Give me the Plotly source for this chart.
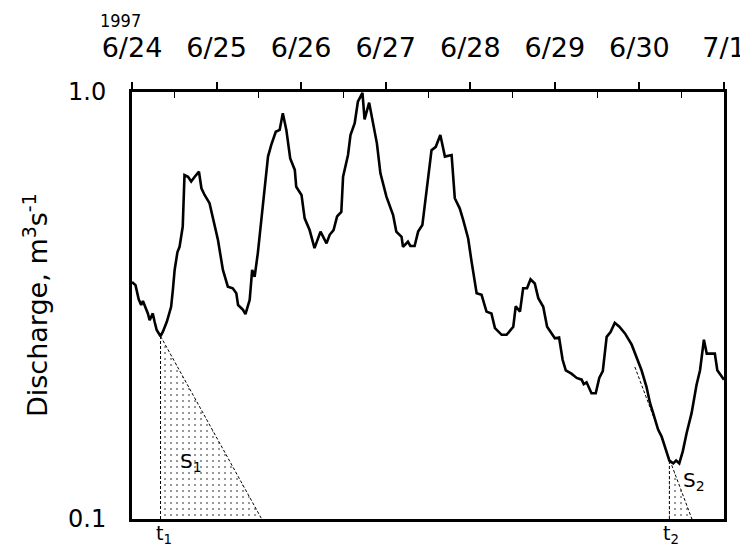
import pandas as pd
import plotly.graph_objects as go

# hours since 1997-06-24 00:00
hours = [0, 1.0, 1.9, 2.6, 3.1, 3.8, 4.5, 5.0, 5.9, 6.4,
         7.0, 8.1, 8.8, 9.9, 11.1, 11.6, 12.1, 12.9, 13.5, 14.4,
         14.9, 15.9, 16.8, 17.8, 19.0, 19.7, 20.6, 22.0, 23.4, 24.4,
         25.8, 27.2, 28.6, 29.6, 30.1, 31.5, 32.2, 33.4, 34.1, 34.8,
         35.7, 36.7, 37.6, 38.6, 39.5, 40.8, 41.9, 42.8, 43.8, 44.9,
         46.2, 46.6, 48.1, 49.0, 50.4, 51.8, 53.5, 55.2, 56.1, 57.2,
         58.2, 59.4, 59.9, 61.3, 62.0, 63.2, 64.1, 65.4, 66.0, 67.3,
         68.4, 69.5, 70.5, 72.2, 74.1, 75.0, 76.5, 76.9, 78.3, 79.0,
         80.2, 81.2, 82.4, 83.6, 85.0, 86.2, 87.5, 88.8, 90.7, 91.6,
         93.0, 94.0, 95.4, 96.3, 97.8, 99.2, 100.6, 102.0, 103.0, 104.9,
         106.3, 108.2, 108.9, 110.1, 111.0, 112.1, 113.1, 114.3, 115.3, 116.7,
         117.8, 120.0, 121.2, 122.2, 123.1, 124.7, 126.2, 127.6, 128.2, 129.0,
         130.4, 131.6, 132.6, 133.6, 134.7, 135.8, 137.0, 138.3, 139.9, 141.8,
         143.2, 144.6, 146.0, 147.0, 147.9, 149.3, 150.3, 151.5, 152.5, 153.6,
         154.4, 155.3, 156.3, 157.4, 158.8, 160.2, 161.2, 162.3, 163.1, 164.5,
         165.4, 166.1, 167.4, 168.0]

discharge = [0.359, 0.353, 0.327, 0.317, 0.324, 0.314, 0.303, 0.292, 0.303, 0.290,
             0.277, 0.268, 0.275, 0.290, 0.314, 0.344, 0.383, 0.422, 0.434, 0.484,
             0.639, 0.633, 0.617, 0.633, 0.651, 0.595, 0.574, 0.549, 0.493, 0.450,
             0.383, 0.350, 0.347, 0.338, 0.317, 0.309, 0.302, 0.326, 0.383, 0.369,
             0.419, 0.511, 0.590, 0.706, 0.751, 0.807, 0.815, 0.892, 0.815, 0.699,
             0.657, 0.600, 0.574, 0.506, 0.475, 0.431, 0.471, 0.442, 0.463, 0.475,
             0.511, 0.524, 0.633, 0.712, 0.793, 0.845, 0.949, 0.995, 0.863, 0.944,
             0.845, 0.758, 0.645, 0.569, 0.515, 0.471, 0.458, 0.434, 0.446, 0.436,
             0.436, 0.471, 0.488, 0.590, 0.731, 0.744, 0.793, 0.706, 0.712, 0.564,
             0.534, 0.501, 0.454, 0.404, 0.338, 0.335, 0.306, 0.303, 0.280, 0.270,
             0.270, 0.282, 0.315, 0.306, 0.347, 0.347, 0.364, 0.356, 0.329, 0.314,
             0.282, 0.265, 0.266, 0.236, 0.223, 0.219, 0.214, 0.212, 0.207, 0.209,
             0.197, 0.197, 0.214, 0.222, 0.267, 0.274, 0.288, 0.282, 0.272, 0.256,
             0.240, 0.223, 0.204, 0.187, 0.177, 0.162, 0.156, 0.145, 0.137, 0.135,
             0.137, 0.135, 0.144, 0.159, 0.177, 0.206, 0.223, 0.263, 0.244, 0.244,
             0.244, 0.223, 0.215, 0.212]

# recession lines (hours, discharge)
rec1_hours = [8.1, 36.8]
rec1_q = [0.268, 0.1]
rec2_hours = [142.7, 158.9]
rec2_q = [0.227, 0.1]
t1_hour, t1_q = 8.1, 0.268
t2_hour, t2_q = 152.5, 0.138

day_labels = ["6/24", "6/25", "6/26", "6/27", "6/28", "6/29", "6/30", "7/1"]

base = pd.Timestamp("1997-06-24")


def to_time(h):
    return [base + pd.Timedelta(hours=v) for v in h]


day_ticks = [base + pd.Timedelta(days=i) for i in range(len(day_labels))]

fig = go.Figure()

pattern = dict(shape=".", size=6, solidity=0.1, fgcolor="black", bgcolor="white")

# S1 shaded triangle
fig.add_trace(go.Scatter(
    x=to_time([t1_hour, t1_hour, rec1_hours[1], t1_hour]),
    y=[0.1, t1_q, rec1_q[1], 0.1],
    fill="toself", fillcolor="white", fillpattern=pattern,
    mode="lines", line=dict(width=0), hoverinfo="skip"))
# S2 shaded triangle
fig.add_trace(go.Scatter(
    x=to_time([t2_hour, t2_hour, rec2_hours[1], t2_hour]),
    y=[0.1, t2_q, rec2_q[1], 0.1],
    fill="toself", fillcolor="white", fillpattern=pattern,
    mode="lines", line=dict(width=0), hoverinfo="skip"))

dash_style = dict(color="black", width=1, dash="3px,2px")
fig.add_trace(go.Scatter(x=to_time(rec1_hours), y=rec1_q, mode="lines", line=dash_style))
fig.add_trace(go.Scatter(x=to_time(rec2_hours), y=rec2_q, mode="lines", line=dash_style))
fig.add_trace(go.Scatter(x=to_time([t1_hour, t1_hour]), y=[0.1, t1_q], mode="lines", line=dash_style))
fig.add_trace(go.Scatter(x=to_time([t2_hour, t2_hour]), y=[0.1, t2_q], mode="lines", line=dash_style))

# hydrograph
fig.add_trace(go.Scatter(x=to_time(hours), y=discharge, mode="lines",
                         line=dict(color="black", width=2.6)))

font_main = "DejaVu Sans"

# page body has an 8px margin, so the figure is 740x540 and offset by 8px
fig.update_layout(
    width=740, height=540, autosize=False,
    margin=dict(l=124, r=24, t=84, b=29),
    paper_bgcolor="white", plot_bgcolor="white",
    showlegend=False,
    xaxis=dict(
        type="date", side="top", automargin=False,
        range=[day_ticks[0], day_ticks[-1]],
        tickmode="array", tickvals=day_ticks, ticktext=day_labels,
        ticks="outside", ticklen=7, tickwidth=1.5, tickcolor="black",
        tickfont=dict(family=font_main, size=27, color="black"),
        ticklabelstandoff=14,
        minor=dict(ticks="inside", ticklen=6, tickwidth=1.2, tickcolor="black",
                   tickmode="linear", tick0="1997-06-24 12:00", dtick=86400000),
        showline=True, linewidth=2.5, linecolor="black", mirror=True,
        showgrid=False, zeroline=False,
    ),
    yaxis=dict(
        type="log", range=[-1, 0], automargin=False,
        tickmode="array", tickvals=[0.1, 1.0], ticktext=["0.1", "1.0"],
        ticks="", tickfont=dict(family=font_main, size=24, color="black"),
        ticklabelstandoff=18,
        showline=True, linewidth=3, linecolor="black", mirror=True,
        showgrid=False, zeroline=False,
    ),
    annotations=[
        dict(text="1997", xref="paper", yref="paper", x=-0.0186, y=1.168,
             xanchor="center", yanchor="middle", showarrow=False,
             font=dict(family="DejaVu Sans Condensed, DejaVu Sans", size=18, color="black")),
        dict(text="Discharge, m<sup>3</sup>s<sup>-1</sup>", xref="paper", yref="paper",
             x=-0.163, y=0.5, xanchor="center", yanchor="middle", textangle=-90,
             showarrow=False, font=dict(family=font_main, size=27, color="black")),
        dict(text="S<sub>1</sub>", x=to_time([16.6])[0], y=-0.866, xref="x", yref="y",
             showarrow=False, xanchor="center", yanchor="middle",
             font=dict(family=font_main, size=20, color="black")),
        dict(text="S<sub>2</sub>", x=to_time([159.5])[0], y=-0.91, xref="x", yref="y",
             showarrow=False, xanchor="center", yanchor="middle",
             font=dict(family=font_main, size=20, color="black")),
        dict(text="t<sub>1</sub>", x=to_time([t1_hour])[0], y=0, xref="x", yref="paper",
             showarrow=False, xanchor="center", yanchor="top", yshift=-1, xshift=3,
             font=dict(family=font_main, size=19, color="black")),
        dict(text="t<sub>2</sub>", x=to_time([t2_hour])[0], y=0, xref="x", yref="paper",
             showarrow=False, xanchor="center", yanchor="top", yshift=-1, xshift=2,
             font=dict(family=font_main, size=19, color="black")),
    ],
)

fig.write_html("out.html")
